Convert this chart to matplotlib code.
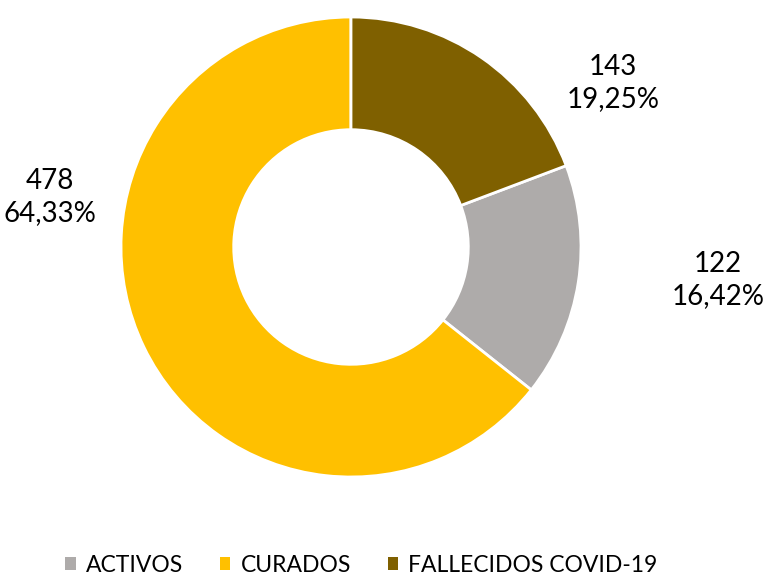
import matplotlib.pyplot as plt

# data
categories = ['ACTIVOS', 'CURADOS', 'FALLECIDOS COVID-19']
values = [122, 478, 143]
colors = ['#AEABAA', '#FFC000', '#7F6000']

total = sum(values)
pct = [v / total * 100 for v in values]
labels = ['{}\n{}%'.format(v, ('%.2f' % p).replace('.', ',')) for v, p in zip(values, pct)]

# label positions (in radius units)
label_pos = [(1.596, -0.143), (-1.309, 0.217), (1.139, 0.713)]

plt.rcParams['font.family'] = ['Lato', 'DejaVu Sans']

fig = plt.figure(figsize=(7.69, 5.76), dpi=100)
ax = fig.add_axes([0, 0, 1, 1])

# first slice starts so that FALLECIDOS ends at 12 o'clock
start = 90 - pct[2] / 100 * 360
wedges, _ = ax.pie(values, colors=colors, startangle=start, counterclock=False,
                   radius=1.0, wedgeprops=dict(width=0.49, edgecolor='white', linewidth=2))

for (x, y), lab in zip(label_pos, labels):
    ax.text(x, y, lab, ha='center', va='center', fontsize=20, linespacing=1.3, color='black')

ax.set_xlim(-351 / 230, 418 / 230)
ax.set_ylim(-329 / 230, 247 / 230)
ax.set_aspect('equal')
ax.axis('off')

leg = fig.legend(wedges, categories, loc='center', bbox_to_anchor=(0.47, 0.019), ncol=3,
                 frameon=False, fontsize=16.5, handlelength=0.45, handleheight=0.45,
                 handletextpad=0.45, columnspacing=1.6)
for h in leg.legend_handles:
    h.set_edgecolor('none')

plt.savefig('out.png', dpi=100)
